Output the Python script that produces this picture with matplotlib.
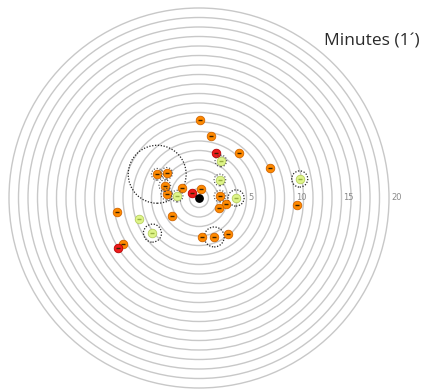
import numpy as np
import matplotlib
matplotlib.use("Agg")
import matplotlib.pyplot as plt
from matplotlib.patches import Circle

# Offsets from the field centre in arc-minutes (x to the right, y up)
orange_x = [0.1, 1.3, 4.2, 7.5, 2.2, 2.8, 2.1, 10.3, 0.2, -1.8, -3.6, -3.4, -4.4, -3.4,
            -8.6, -2.8, -8.0, 0.3, 1.6, 3.0]
orange_y = [8.2, 6.5, 4.7, 3.2, 0.2, -0.6, -1.0, -0.7, 0.9, 1.1, 1.3, 0.4, 2.5, 2.6,
            -1.5, -1.9, -4.8, -4.1, -4.1, -3.8]

red_x = [1.8, -0.7, -8.5]
red_y = [4.7, 0.5, -5.3]

lime_x = [2.3, 10.6, 2.2, 3.9, -2.3, -6.3, -4.9]
lime_y = [3.9, 2.0, 1.9, 0.0, 0.2, -2.2, -3.7]

# Dashed halos: centre and radius (arc-minutes)
halo_x = [-4.4, 10.6, 3.9, -4.9, 1.6]
halo_y = [2.5, 2.0, 0.0, -3.7, -4.1]
halo_r = [3.05, 0.85, 0.85, 0.95, 1.05]

# Points that carry a small dotted outline
dotted_orange = [4, 12, 13, 10, 11]
dotted_lime = [0, 2, 4]

ring_radii = list(range(1, 21))
ring_labels = ["5", "10", "15", "20"]
ring_label_r = [5, 10, 15, 20]

W, H = 428, 392
cx, cy = 199, 198
scale = 9.5  # pixels per arc-minute

fig = plt.figure(figsize=(W / 100, H / 100), dpi=100)
ax = fig.add_axes([0, 0, 1, 1])
ax.set_xlim(-cx / scale, (W - cx) / scale)
ax.set_ylim(-(H - cy) / scale, cy / scale)
ax.set_aspect("equal")
ax.axis("off")

for r in ring_radii:
    ax.add_patch(Circle((0, 0), r, fill=False, ec="#c8c8c8", lw=1.0, zorder=1))

for lab, r in zip(ring_labels, ring_label_r):
    ax.text(r + 0.2, 0, lab, fontsize=6, color="#8a8a8a", ha="left", va="center",
            zorder=2)

for x, y, r in zip(halo_x, halo_y, halo_r):
    ax.add_patch(Circle((x, y), r, fill=False, ec="#222222", lw=0.9,
                        ls=(0, (1, 1.3)), zorder=3))

ms = 38
ax.scatter(orange_x, orange_y, s=ms, c="#ff8a00", ec="#d06400", lw=0.6, zorder=4)
ax.scatter([orange_x[i] for i in dotted_orange], [orange_y[i] for i in dotted_orange],
           s=70, facecolors="none", ec="#444444", lw=0.8, linestyles=":", zorder=4)
ax.scatter(red_x, red_y, s=ms, c="#ee1c1c", ec="#b80000", lw=0.6, zorder=4)
ax.scatter(lime_x, lime_y, s=ms, c="#dff58a", ec="#b8d060", lw=0.6, zorder=4)
ax.scatter([lime_x[i] for i in dotted_lime], [lime_y[i] for i in dotted_lime],
           s=70, facecolors="none", ec="#444444", lw=0.8, linestyles=":", zorder=4)

# Small dark glyph inside each marker
all_x = orange_x + red_x
all_y = orange_y + red_y
ax.scatter(all_x, all_y, s=7, marker="_", c="#3a2000", lw=1.0, zorder=5)
ax.scatter(lime_x, lime_y, s=7, marker="_", c="#98b040", lw=1.0, zorder=5)

ax.scatter([0], [0], s=28, c="black", zorder=5)

fig.text(0.757, 0.893, "Minutes (1\u00b4)", fontsize=12.5, color="#2a2a2a",
         family="Open Sans", ha="left", va="center")

fig.savefig("out.png", dpi=100)
